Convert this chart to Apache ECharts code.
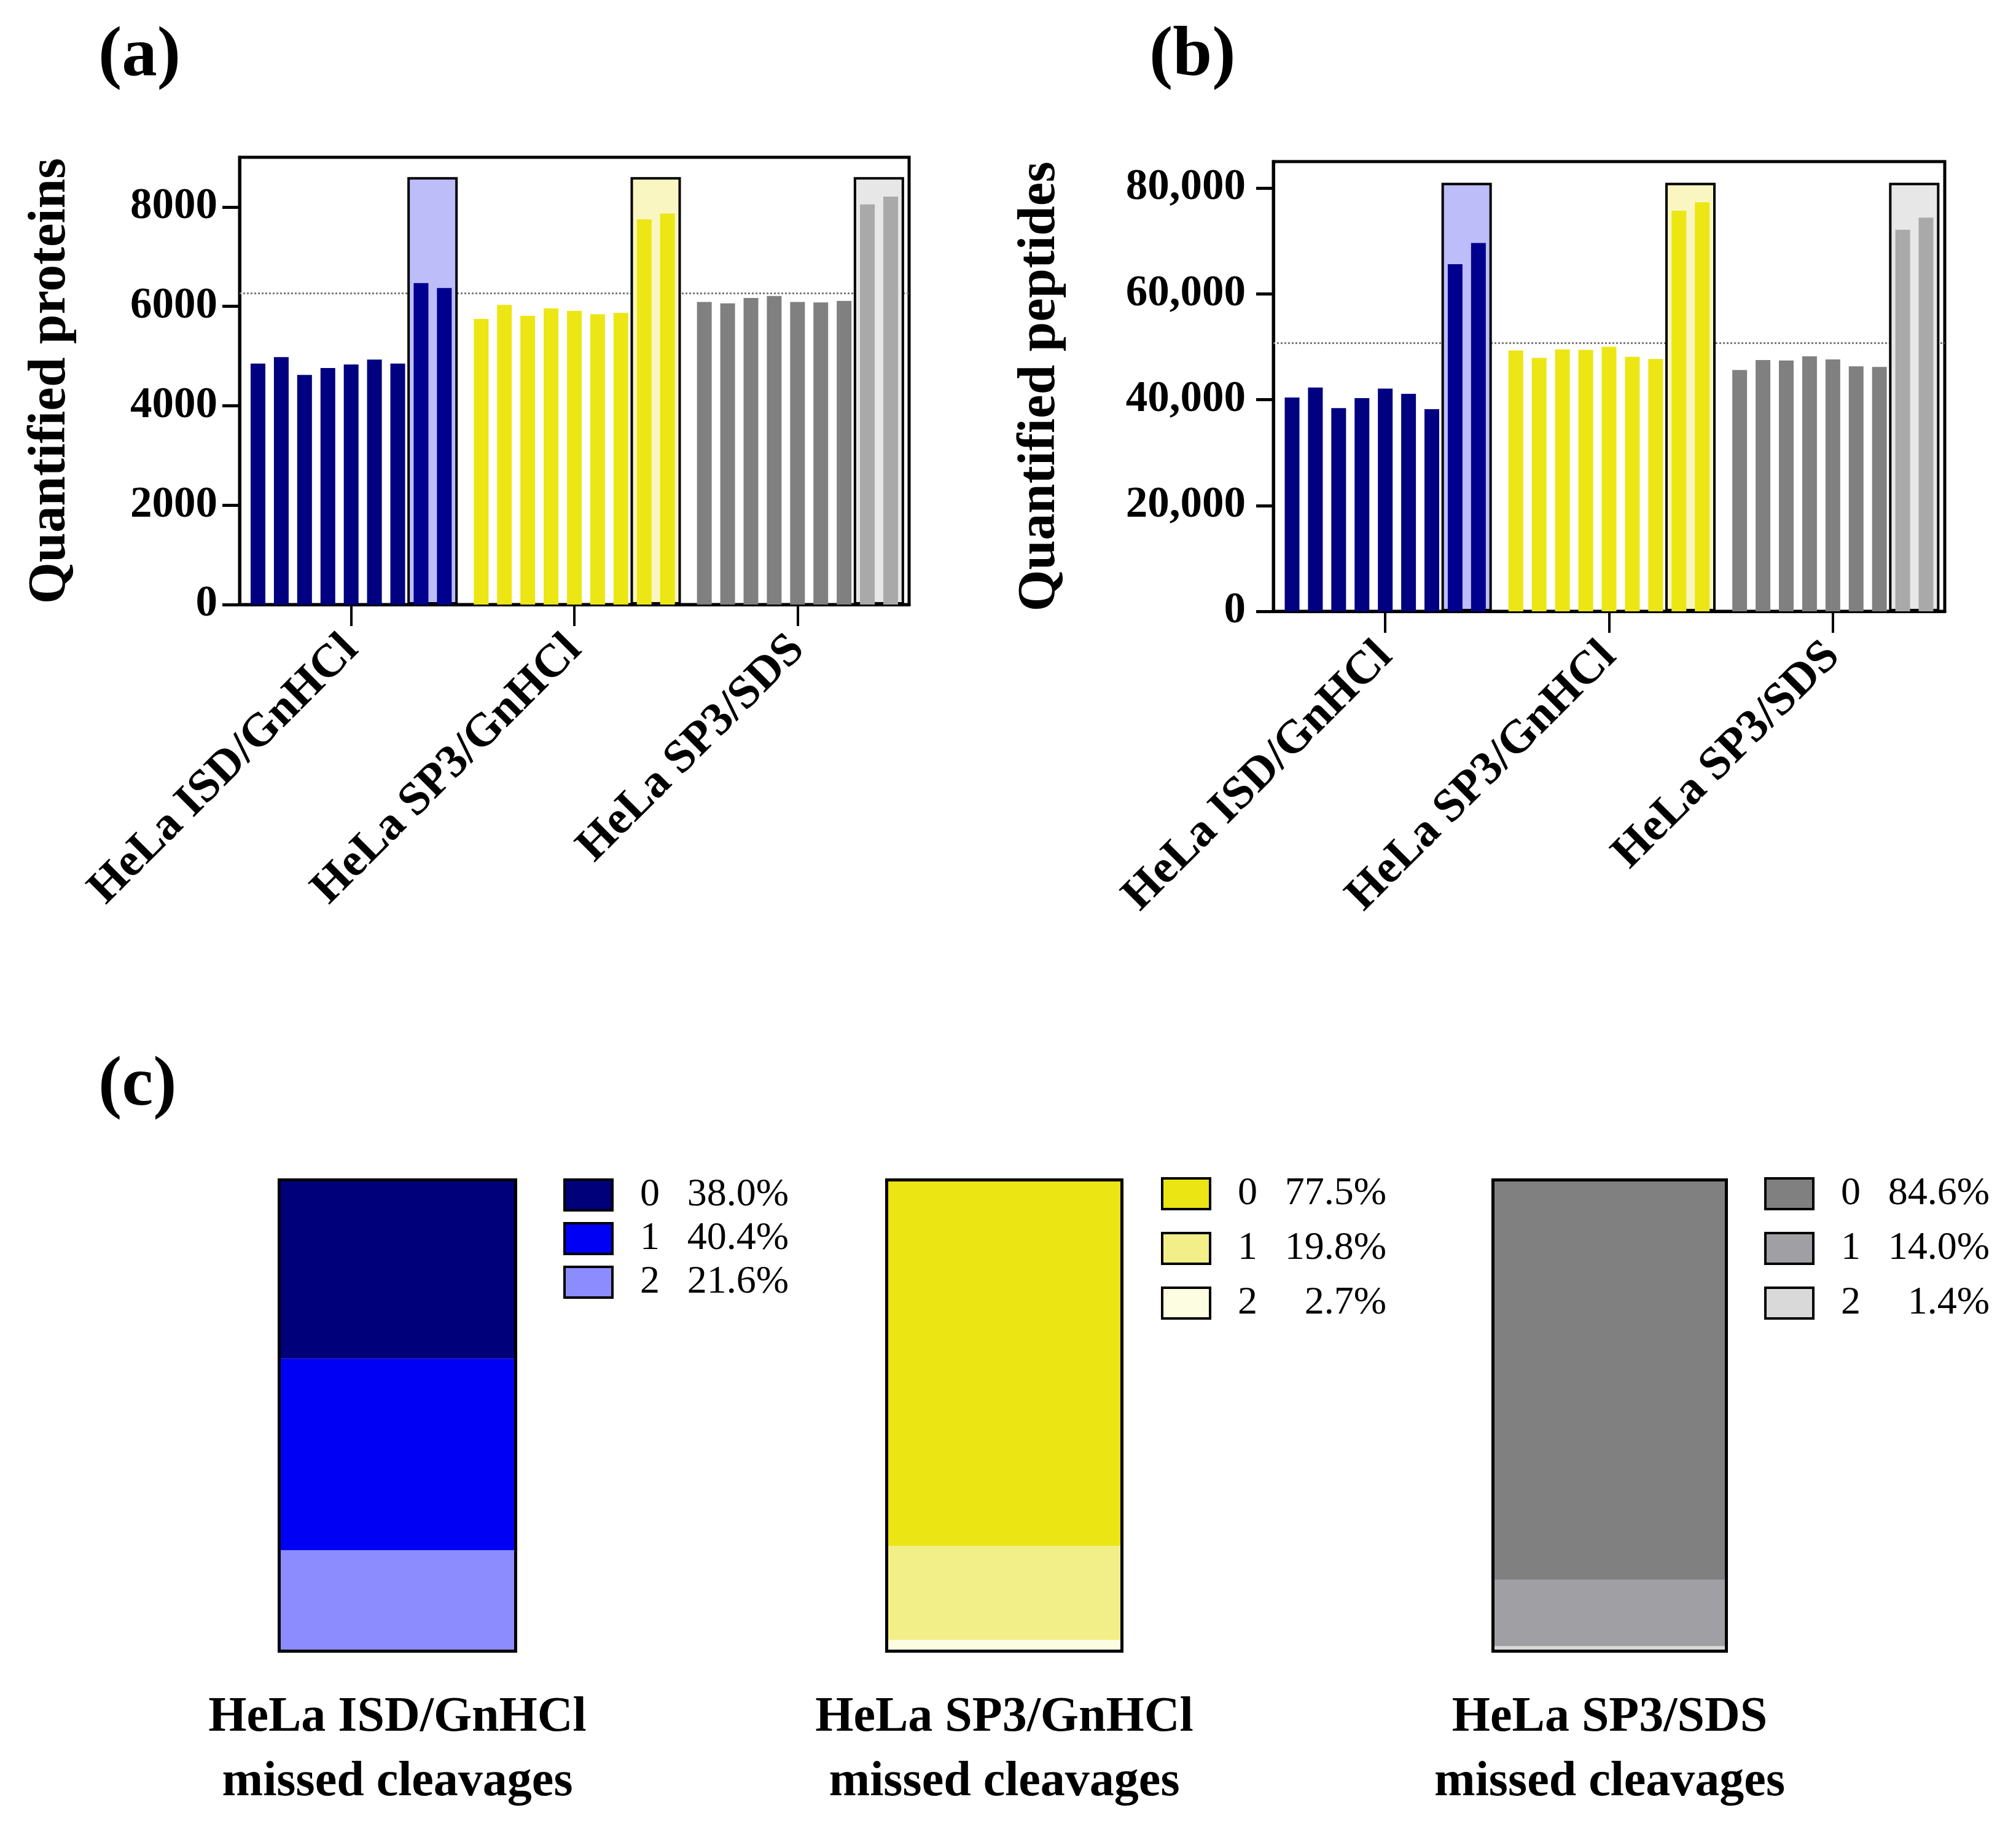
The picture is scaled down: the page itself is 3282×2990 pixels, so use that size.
<!DOCTYPE html>
<html><head><meta charset="utf-8">
<script src="https://cdn.jsdelivr.net/npm/echarts@6/dist/echarts.min.js"></script>
<style>html,body{margin:0;padding:0;background:#fff}#c{width:3282px;height:2990px}</style>
</head><body><div id="c"></div>
<script>
// ---------- data ----------
const groups = ['HeLa ISD/GnHCl', 'HeLa SP3/GnHCl', 'HeLa SP3/SDS'];
// (a) quantified proteins: 7 single runs + 2 boxed runs per group
const proteinsISD  = [4850, 4980, 4620, 4760, 4830, 4930, 4850, 6470, 6370];
const proteinsSP3G = [5750, 6030, 5810, 5960, 5910, 5840, 5870, 7750, 7870];
const proteinsSP3S = [6090, 6060, 6170, 6210, 6090, 6080, 6110, 8050, 8210];
const proteinsRef = 6270;
const proteinsBox = 8600;
const proteinTicks = [0, 2000, 4000, 6000, 8000];
// (b) quantified peptides
const peptidesISD  = [40400, 42300, 38400, 40300, 42100, 41100, 38200, 65600, 69600];
const peptidesSP3G = [49300, 47900, 49500, 49400, 50000, 48100, 47700, 75700, 77300];
const peptidesSP3S = [45600, 47500, 47400, 48200, 47600, 46300, 46200, 72100, 74400];
const peptidesRef = 50700;
const peptidesBox = 81000;
const peptideTicks = [0, 20000, 40000, 60000, 80000];
// (c) missed cleavages (%)
const cleavageLevels = ['0', '1', '2'];
const missedISD  = [38.0, 40.4, 21.6];
const missedSP3G = [77.5, 19.8, 2.7];
const missedSP3S = [84.6, 14.0, 1.4];
const missedTitles = ['HeLa ISD/GnHCl\nmissed cleavages', 'HeLa SP3/GnHCl\nmissed cleavages', 'HeLa SP3/SDS\nmissed cleavages'];

// ---------- styles ----------
const FONT = 'Liberation Serif';
const groupColors = [
  {bar: '#000080', boxBar: '#00008f', box: '#bdbdfa'},
  {bar: '#ece614', boxBar: '#ece614', box: '#faf6c2'},
  {bar: '#808080', boxBar: '#a9a9a9', box: '#e7e7e7'}
];
const missedColors = [
  ['#00007a', '#0000f5', '#8c8cff'],
  ['#ebe514', '#f2ef88', '#fdfde2'],
  ['#808080', '#a0a0a4', '#d9d9d9']
];

const option = {
  animation: false,
  backgroundColor: '#fff',
  title: [
    {text: '(a)', left: 155, top: 30},
    {text: '(b)', left: 1866, top: 30},
    {text: '(c)', left: 155, top: 1706}
  ].map(t => Object.assign(t, {textStyle: {fontFamily: FONT, fontSize: 115, fontWeight: 'bold', color: '#000'}})),
  grid: [], xAxis: [], yAxis: [], series: [], legend: []
};

function addBarPanel(gridRect, values, ref, boxTop, ticks, maxV, yName, nameGap, labelMargin, fmt) {
  const gi = option.grid.length;
  option.grid.push(Object.assign({show: true, borderColor: '#000', borderWidth: 5, backgroundColor: 'rgba(0,0,0,0)'}, gridRect));
  const xa = option.xAxis.length;
  option.xAxis.push({
    type: 'category', gridIndex: gi, data: groups,
    axisLine: {show: true, lineStyle: {color: '#000', width: 5}},
    axisTick: {show: true, alignWithLabel: true, length: 35, lineStyle: {color: '#000', width: 4}},
    axisLabel: {rotate: 45, fontFamily: FONT, fontSize: 76, fontWeight: 'bold', color: '#000', margin: 62, align: 'right', verticalAlign: 'middle', interval: 0},
    splitLine: {show: false}
  });
  option.xAxis.push({type: 'category', gridIndex: gi, data: groups, show: false});
  const ya = option.yAxis.length;
  option.yAxis.push({
    type: 'value', gridIndex: gi, min: 0, max: maxV, interval: ticks[1] - ticks[0],
    name: yName, nameLocation: 'middle', nameGap: nameGap,
    nameTextStyle: {fontFamily: FONT, fontSize: 87, fontWeight: 'bold', color: '#000'},
    axisLine: {show: true, lineStyle: {color: '#000', width: 5}},
    axisTick: {show: true, length: 28, customValues: ticks, lineStyle: {color: '#000', width: 5}},
    axisLabel: {customValues: ticks, fontFamily: FONT, fontSize: 71, fontWeight: 'bold', color: '#000', margin: labelMargin, formatter: fmt},
    splitLine: {show: false}
  });
  const nBars = values[0].length;
  for (let i = 0; i < nBars; i++) {
    option.series.push({
      type: 'bar', xAxisIndex: xa, yAxisIndex: ya, barWidth: 24, barGap: '58%', z: 3,
      data: values.map((arr, g) => ({value: arr[i], itemStyle: {color: i < 7 ? groupColors[g].bar : groupColors[g].boxBar}}))
    });
  }
  // spacer on hidden axis so that the highlight box sits over the last two runs
  option.series.push({
    type: 'bar', xAxisIndex: xa + 1, yAxisIndex: ya, barWidth: 265, barGap: '0%', silent: true, z: 1,
    itemStyle: {color: 'rgba(0,0,0,0)'},
    data: groups.map(() => 0),
    markLine: {silent: true, symbol: 'none', z: 1, label: {show: false},
      lineStyle: {type: 'dotted', color: '#7a7a7a', width: 3}, data: [{yAxis: ref}]}
  });
  option.series.push({
    type: 'bar', xAxisIndex: xa + 1, yAxisIndex: ya, barWidth: 82, barGap: '0%', silent: true, z: 2,
    itemStyle: {borderColor: '#000', borderWidth: 4},
    data: groups.map((g, k) => ({value: boxTop, itemStyle: {color: groupColors[k].box}}))
  });
}

addBarPanel({left: 390, top: 256, width: 1090, height: 728},
  [proteinsISD, proteinsSP3G, proteinsSP3S], proteinsRef, proteinsBox, proteinTicks, 9000,
  'Quantified proteins', 264, 36, v => String(v));
addBarPanel({left: 2073, top: 263, width: 1093, height: 732},
  [peptidesISD, peptidesSP3G, peptidesSP3S], peptidesRef, peptidesBox, peptideTicks, 85000,
  'Quantified peptides', 336, 45, v => v.toLocaleString('en-US'));

// ---------- panel (c) ----------
const missedSets = [missedISD, missedSP3G, missedSP3S];
const setKeys = ['ISD/GnHCl', 'SP3/GnHCl', 'SP3/SDS'];
const cGrids = [
  {left: 452, top: 1918, width: 390, height: 772},
  {left: 1441, top: 1918, width: 388, height: 772},
  {left: 2428, top: 1918, width: 385, height: 772}
];
const cLegends = [
  {left: 917, top: 1913, itemGap: 7},
  {left: 1890, top: 1911, itemGap: 25},
  {left: 2872, top: 1911, itemGap: 25}
];
const legendText = {};
missedSets.forEach((vals, s) => {
  const gi = option.grid.length;
  option.grid.push(Object.assign({show: false}, cGrids[s]));
  const xa = option.xAxis.length;
  option.xAxis.push({
    type: 'category', gridIndex: gi, data: [missedTitles[s]],
    axisLine: {show: false}, axisTick: {show: false},
    axisLabel: {fontFamily: FONT, fontSize: 80, fontWeight: 'bold', color: '#000', lineHeight: 105, margin: 54, interval: 0}
  });
  option.xAxis.push({type: 'category', gridIndex: gi, data: [missedTitles[s]], show: false});
  const ya = option.yAxis.length;
  option.yAxis.push({type: 'value', gridIndex: gi, min: 0, max: 100, show: false});
  const names = cleavageLevels.map(l => setKeys[s] + ' ' + l);
  // bottom to top: 2, 1, 0
  for (let k = cleavageLevels.length - 1; k >= 0; k--) {
    legendText[names[k]] = '{k|' + cleavageLevels[k] + '}{v|' + vals[k].toFixed(1) + '%}';
    option.series.push({
      name: names[k], type: 'bar', stack: 'mc' + s, xAxisIndex: xa, yAxisIndex: ya,
      barWidth: '100%', z: 2, itemStyle: {color: missedColors[s][k]}, data: [vals[k]]
    });
  }
  option.series.push({
    type: 'bar', xAxisIndex: xa + 1, yAxisIndex: ya, barWidth: '100%', silent: true, z: 5,
    itemStyle: {color: 'rgba(0,0,0,0)', borderColor: '#000', borderWidth: 5},
    data: [vals.reduce((a, b) => a + b, 0)]
  });
  option.legend.push(Object.assign({
    data: names, orient: 'vertical', icon: 'rect', itemWidth: 78, itemHeight: 50,
    selectedMode: false, padding: 0,
    itemStyle: {borderColor: '#000', borderWidth: 4},
    formatter: n => legendText[n],
    textStyle: {
      padding: [0, 0, 0, 40], lineHeight: 50,
      rich: {
        k: {width: 62, fontFamily: FONT, fontSize: 64, lineHeight: 50, color: '#000'},
        v: {width: 180, align: 'right', fontFamily: FONT, fontSize: 64, lineHeight: 50, color: '#000'}
      }
    }
  }, cLegends[s]));
});

const chart = echarts.init(document.getElementById('c'), null, {renderer: 'canvas'});
chart.setOption(option);
</script>
</body></html>
